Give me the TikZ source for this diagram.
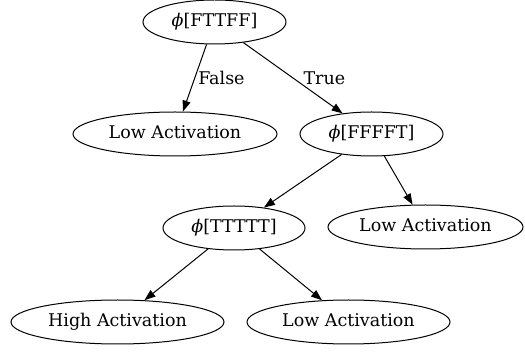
\documentclass[tikz,border=0pt]{standalone}
\usepackage{fontspec}
\setmainfont{DejaVu Serif}
\usetikzlibrary{arrows.meta,shapes.geometric}

\begin{document}
\begin{tikzpicture}[
          x=1pt, y=-1pt,
          every node/.style={font=\fontsize{17.5}{20}\selectfont},
          test/.style={ellipse, draw, line width=1pt, minimum width=143pt, minimum height=44pt, inner sep=0pt, text height=13pt, text depth=4pt},
          leaf/.style={test, minimum width=204pt},
          branch/.style={draw, line width=1pt, -{Triangle[length=11pt,width=8pt]}},
          cond/.style={inner sep=1pt, anchor=west}
        ]
          \useasboundingbox (0,0) rectangle (525,352);
          % splits
          \node[test] (root) at (214.5,22) {\textit{\symbol{"03D5}}[FTTFF]};
          \node[test] (fffft) at (371.5,134) {\textit{\symbol{"03D5}}[FFFFT]};
          \node[test, minimum width=142pt] (ttttt) at (234,228) {\textit{\symbol{"03D5}}[TTTTT]};
          % leaves
          \node[leaf] (lowA) at (175,134) {Low Activation};
          \node[leaf, minimum width=195pt] (lowB) at (425.5,227) {Low Activation};
          \node[leaf, minimum width=213pt] (high) at (117.5,322) {High Activation};
          \node[leaf, minimum width=203pt] (lowC) at (348.5,322) {Low Activation};
          % edges
          \draw[branch] (root) -- node[cond, xshift=2pt] {False} (lowA);
          \draw[branch] (root) -- node[cond, xshift=9pt] {True} (fffft);
          \draw[branch] (fffft) -- (ttttt);
          \draw[branch] (fffft) -- (lowB);
          \draw[branch] (ttttt) -- (high);
          \draw[branch] (ttttt) -- (lowC);
        \end{tikzpicture}
\end{document}
